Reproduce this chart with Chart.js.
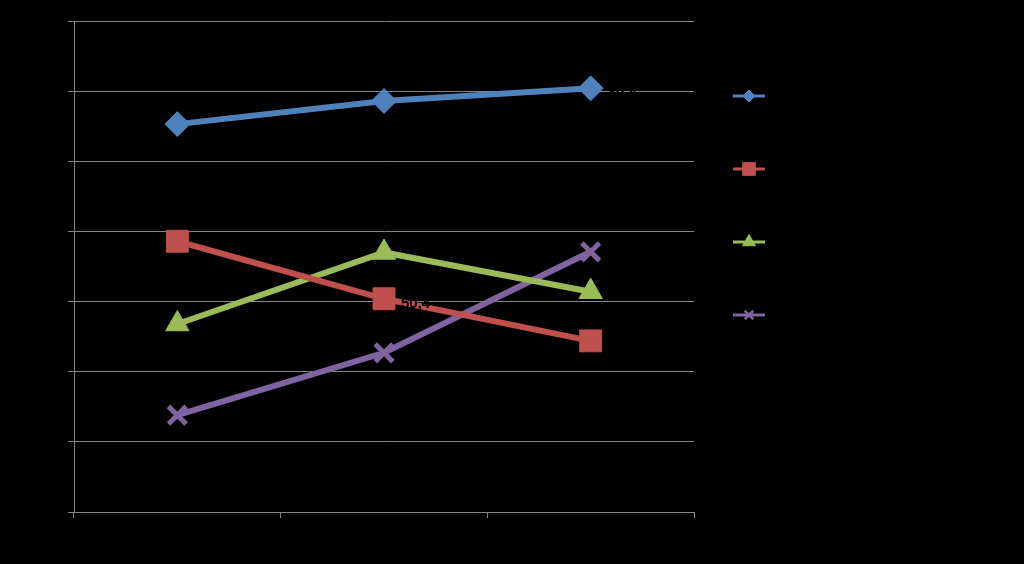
<!DOCTYPE html>
<html>
<head>
<meta charset="utf-8">
<style>
  html, body { margin: 0; padding: 0; background: #000; }
  #wrap { width: 1024px; height: 564px; position: relative; }
  canvas { display: block; }
</style>
<script src="https://cdn.jsdelivr.net/npm/chart.js@4/dist/chart.umd.min.js"></script>
</head>
<body>
<div id="wrap"><canvas id="c" width="1024" height="564"></canvas></div>
<script>
// ---- data ----
const categories = ["Category 1", "Category 2", "Category 3"];
const seriesNames = ["Series 1", "Series 2", "Series 3", "Series 4"];
const series1 = [75.3, 78.6, 80.4];
const series2 = [58.6, 50.4, 44.4];
const series3 = [46.8, 57.0, 51.4];
const series4 = [33.8, 42.7, 57.1];
const yTicks = [20, 30, 40, 50, 60, 70, 80, 90];

// ---- styles ----
const colors = ["#4F81BD", "#C0504D", "#9BBB59", "#8064A2"];
const pointStyles = ["rectRot", "rect", "triangle", "crossRot"];
const pointRadii = [12.5, 15.5, 13.5, 12.5];
const legendRadii = [6, 9, 7.5, 6];
const gridColor = "#868686";
// which points carry a (black) value label: [dataset, index]
const labelledPoints = [[0, 2], [1, 1], [3, 0]];

function makeDataset(i, values) {
  const isCross = pointStyles[i] === "crossRot";
  return {
    label: seriesNames[i],
    data: values,
    borderColor: colors[i],
    backgroundColor: colors[i],
    borderWidth: 6,
    pointStyle: pointStyles[i],
    pointRadius: pointRadii[i],
    pointHoverRadius: pointRadii[i],
    pointBackgroundColor: colors[i],
    pointBorderColor: colors[i],
    pointBorderWidth: isCross ? 5 : 1,
    tension: 0
  };
}

const datasets = [series1, series2, series3, series4].map((v, i) => makeDataset(i, v));

// data labels (black text, as in the reference)
const dataLabelPlugin = {
  id: "dataLabels",
  afterDatasetsDraw(chart) {
    const ctx = chart.ctx;
    ctx.save();
    ctx.fillStyle = "#000";
    ctx.font = "bold 15px 'Liberation Sans', Arial, sans-serif";
    ctx.textAlign = "left";
    ctx.textBaseline = "middle";
    labelledPoints.forEach(([di, pi]) => {
      const pt = chart.getDatasetMeta(di).data[pi];
      const v = chart.data.datasets[di].data[pi];
      ctx.fillText(v.toFixed(1).replace(".", ","), pt.x + 17, pt.y + 5);
    });
    ctx.restore();
  }
};

// legend: line + marker samples with black labels on the right
const legendPlugin = {
  id: "lineLegend",
  afterDraw(chart) {
    const ctx = chart.ctx;
    const area = chart.chartArea;
    const x0 = area.right + 39;
    const y0 = area.top + 75;
    const step = 73;
    chart.data.datasets.forEach((ds, i) => {
      const y = y0 + i * step;
      ctx.save();
      ctx.strokeStyle = ds.borderColor;
      ctx.lineWidth = 3;
      ctx.beginPath();
      ctx.moveTo(x0, y);
      ctx.lineTo(x0 + 32, y);
      ctx.stroke();
      const isCross = ds.pointStyle === "crossRot";
      ctx.fillStyle = ds.borderColor;
      ctx.strokeStyle = ds.borderColor;
      ctx.lineWidth = isCross ? 2.5 : 1;
      Chart.helpers.drawPoint(ctx, {
        pointStyle: ds.pointStyle,
        rotation: 0,
        radius: legendRadii[i],
        borderWidth: isCross ? 2.5 : 1
      }, x0 + 16, y);
      ctx.fillStyle = "#000";
      ctx.font = "15px 'Liberation Sans', Arial, sans-serif";
      ctx.textBaseline = "middle";
      ctx.fillText(ds.label, x0 + 40, y);
      ctx.restore();
    });
  }
};

const bgPlugin = {
  id: "bg",
  beforeDraw(chart) {
    const ctx = chart.ctx;
    ctx.save();
    ctx.fillStyle = "#000";
    ctx.fillRect(0, 0, chart.width, chart.height);
    ctx.restore();
  }
};

new Chart(document.getElementById("c"), {
  type: "line",
  data: { labels: categories, datasets: datasets },
  plugins: [bgPlugin, dataLabelPlugin, legendPlugin],
  options: {
    responsive: false,
    animation: false,
    events: [],
    layout: { padding: { top: 21, right: 330, left: 0, bottom: 0 } },
    plugins: { legend: { display: false }, tooltip: { enabled: false } },
    scales: {
      x: {
        type: "category",
        offset: true,
        grid: { offset: true, drawOnChartArea: false, drawTicks: true, tickLength: 6, color: gridColor },
        border: { color: gridColor, width: 1 },
        ticks: { color: "#000", font: { size: 15 } },
        afterFit(scale) { scale.height = 52; }
      },
      y: {
        min: yTicks[0],
        max: yTicks[yTicks.length - 1],
        afterBuildTicks(scale) { scale.ticks = yTicks.map(v => ({ value: v })); },
        grid: { color: gridColor, tickLength: 6, lineWidth: 1 },
        border: { color: gridColor, width: 1 },
        ticks: { color: "#000", font: { size: 15 }, padding: 4 },
        afterFit(scale) { scale.width = 74; }
      }
    }
  }
});
</script>
</body>
</html>
